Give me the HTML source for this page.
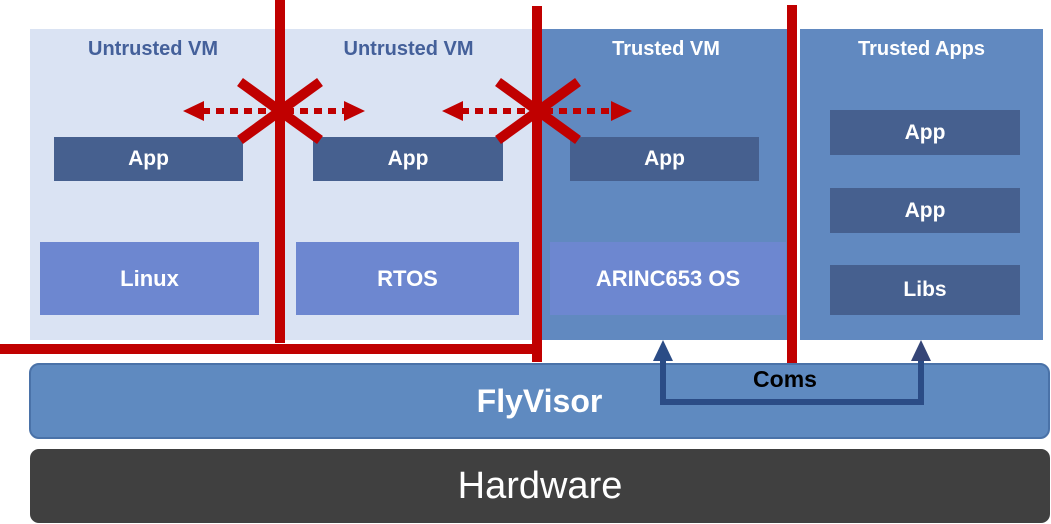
<!DOCTYPE html>
<html><head><style>
body{margin:0;width:1051px;height:524px;background:#fff;position:relative;overflow:hidden;font-family:"Liberation Sans",sans-serif;font-weight:bold}
div{position:absolute;box-sizing:border-box}
.t{display:flex;align-items:center;justify-content:center;color:#fff}
.app{background:#46608f;font-size:21px}
.os{background:#6d87d0;font-size:22px}
.h{font-size:20px;text-align:center}
</style></head><body>
<div style="left:30px;top:29px;width:502px;height:311px;background:#dae3f3"></div>
<div style="left:541px;top:29px;width:254px;height:311px;background:#6189c0"></div>
<div style="left:800px;top:29px;width:243px;height:311px;background:#6189c0"></div>
<div class="h" style="left:30px;top:38px;width:246px;color:#44609a">Untrusted VM</div>
<div class="h" style="left:285px;top:38px;width:247px;color:#44609a">Untrusted VM</div>
<div class="h" style="left:541px;top:38px;width:250px;color:#fff">Trusted VM</div>
<div class="h" style="left:800px;top:38px;width:243px;color:#fff">Trusted Apps</div>
<div class="t app" style="left:54px;top:137px;width:189px;height:44px">App</div>
<div class="t app" style="left:313px;top:137px;width:190px;height:44px">App</div>
<div class="t app" style="left:570px;top:137px;width:189px;height:44px">App</div>
<div class="t app" style="left:830px;top:110px;width:190px;height:45px">App</div>
<div class="t app" style="left:830px;top:188px;width:190px;height:45px">App</div>
<div class="t app" style="left:830px;top:265px;width:190px;height:50px">Libs</div>
<div class="t os" style="left:40px;top:242px;width:219px;height:73px">Linux</div>
<div class="t os" style="left:296px;top:242px;width:223px;height:73px">RTOS</div>
<div class="t os" style="left:550px;top:242px;width:236px;height:73px">ARINC653 OS</div>
<div class="t" style="left:29px;top:363px;width:1021px;height:76px;background:#5f8ac0;border:2px solid #4a72a8;border-radius:10px;font-size:32px">FlyVisor</div>
<div class="t" style="left:30px;top:449px;width:1020px;height:74px;background:#404040;border-radius:9px;font-size:38px;font-weight:normal">Hardware</div>
<svg width="1051" height="524" style="position:absolute;left:0;top:0">
<g stroke="#c00000" stroke-width="10" fill="none">
<line x1="280" y1="0" x2="280" y2="343"/>
<line x1="537" y1="6" x2="537" y2="362"/>
<line x1="792" y1="5" x2="792" y2="363"/>
<line x1="0" y1="349" x2="542" y2="349"/>
<line x1="240" y1="82" x2="320" y2="140"/><line x1="240" y1="140" x2="320" y2="82"/>
<line x1="498" y1="82" x2="578" y2="140"/><line x1="498" y1="140" x2="578" y2="82"/>
</g>
<g stroke="#c00000" stroke-width="6" stroke-dasharray="8,6">
<line x1="202" y1="111" x2="345" y2="111"/>
<line x1="461" y1="111" x2="612" y2="111"/>
</g>
<g fill="#c00000">
<polygon points="183,111 204,101 204,121"/><polygon points="365,111 344,101 344,121"/>
<polygon points="442,111 463,101 463,121"/><polygon points="632,111 611,101 611,121"/>
</g>
<path d="M663,356 V402 H921 V356" stroke="#2b4c86" stroke-width="6" fill="none"/>
<polygon points="663,340 653,361 673,361" fill="#2b4c86"/>
<polygon points="921,340 911,361 931,361" fill="#354577"/>
<text x="785" y="387" text-anchor="middle" font-size="23" font-weight="bold" fill="#000" font-family="Liberation Sans">Coms</text>
</svg>
</body></html>
